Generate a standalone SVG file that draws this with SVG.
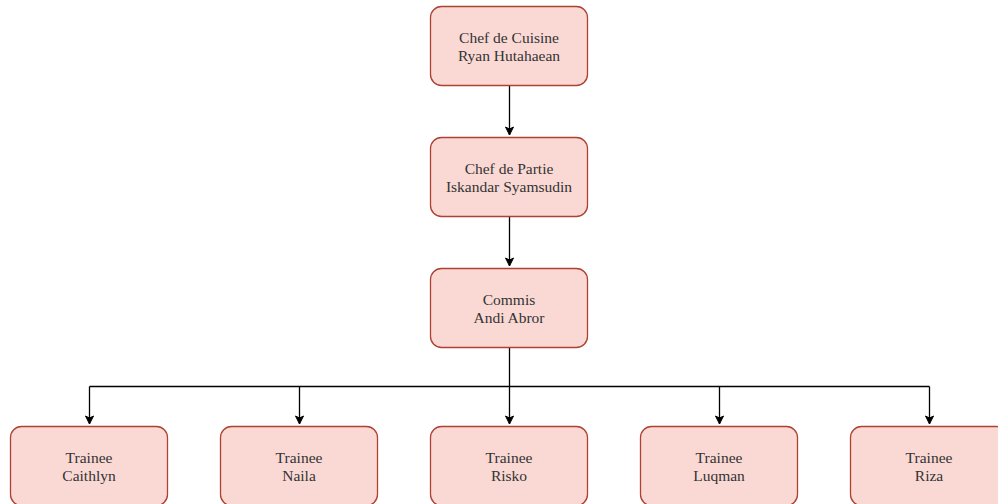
<svg xmlns="http://www.w3.org/2000/svg" width="998" height="504" viewBox="0 0 998 504">
<style>
.box{fill:#fad9d5;stroke:#ae4132;stroke-width:1.3}
.t{font-family:"Liberation Serif",serif;font-size:15.5px;fill:#333;text-anchor:middle}
.c{stroke:#000;stroke-width:1.3;fill:none}
</style>
<defs>
<marker id="a" markerWidth="10" markerHeight="10" refX="9" refY="5" orient="auto" markerUnits="userSpaceOnUse">
<path d="M1,1 L9,5 L1,9 L3,5 Z" fill="#000" stroke="#000"/>
</marker>
</defs>
<rect width="998" height="504" fill="#fff"/>
<g id="connectors">
<path class="c" d="M509.5,86 V135" marker-end="url(#a)"/>
<path class="c" d="M509.5,217 V266" marker-end="url(#a)"/>
<path class="c" d="M509.5,348 V424" marker-end="url(#a)"/>
<path class="c" d="M89.5,386.5 H929.5"/>
<path class="c" d="M89.5,386.5 V424" marker-end="url(#a)"/>
<path class="c" d="M299.5,386.5 V424" marker-end="url(#a)"/>
<path class="c" d="M719.5,386.5 V424" marker-end="url(#a)"/>
<path class="c" d="M929.5,386.5 V424" marker-end="url(#a)"/>
</g>
<g id="chef"><rect class="box" x="430.5" y="6.5" width="157" height="79" rx="11"/><text class="t" x="509" y="42.5">Chef de Cuisine</text><text class="t" x="509" y="61">Ryan Hutahaean</text></g>
<g id="partie"><rect class="box" x="430.5" y="137.5" width="157" height="79" rx="11"/><text class="t" x="509" y="173.5">Chef de Partie</text><text class="t" x="509" y="192">Iskandar Syamsudin</text></g>
<g id="commis"><rect class="box" x="430.5" y="268.5" width="157" height="79" rx="11"/><text class="t" x="509" y="304.5">Commis</text><text class="t" x="509" y="323">Andi Abror</text></g>
<g id="caithlyn"><rect class="box" x="10.5" y="426.5" width="157" height="79" rx="11"/><text class="t" x="89" y="462.5">Trainee</text><text class="t" x="89" y="481">Caithlyn</text></g>
<g id="naila"><rect class="box" x="220.5" y="426.5" width="157" height="79" rx="11"/><text class="t" x="299" y="462.5">Trainee</text><text class="t" x="299" y="481">Naila</text></g>
<g id="risko"><rect class="box" x="430.5" y="426.5" width="157" height="79" rx="11"/><text class="t" x="509" y="462.5">Trainee</text><text class="t" x="509" y="481">Risko</text></g>
<g id="luqman"><rect class="box" x="640.5" y="426.5" width="157" height="79" rx="11"/><text class="t" x="719" y="462.5">Trainee</text><text class="t" x="719" y="481">Luqman</text></g>
<g id="riza"><rect class="box" x="850.5" y="426.5" width="157" height="79" rx="11"/><text class="t" x="929" y="462.5">Trainee</text><text class="t" x="929" y="481">Riza</text></g>
</svg>
